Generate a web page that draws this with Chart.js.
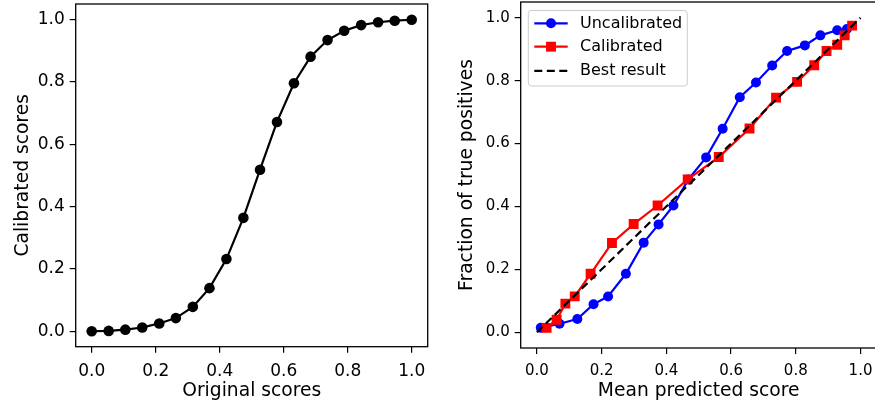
<!DOCTYPE html>
<html>
<head>
<meta charset="utf-8">
<script src="https://cdn.jsdelivr.net/npm/chart.js@4.4.1/dist/chart.umd.min.js"></script>
<style>
  html, body { margin: 0; padding: 0; background: #fff; overflow: hidden; }
  body { width: 875px; height: 403px; position: relative; }
  .box { position: absolute; top: 0; height: 403px; overflow: hidden; }
  #izq { left: 0; width: 440px; }
  #der { left: 440px; width: 435px; }
</style>
</head>
<body>
<div class="box" id="izq"><canvas id="graficoIzq" width="440" height="403"></canvas></div>
<div class="box" id="der"><canvas id="graficoDer" width="440" height="403"></canvas></div>
<script>
// Datos del grafico izquierdo (scores originales vs calibrados)
const originalScores = [0, 0.053, 0.105, 0.158, 0.211, 0.263, 0.316, 0.368, 0.421, 0.474,
  0.526, 0.579, 0.632, 0.684, 0.737, 0.789, 0.842, 0.895, 0.947, 1.0];
const calibratedScores = [0.001, 0.002, 0.006, 0.013, 0.026, 0.043, 0.079, 0.139, 0.232, 0.364,
  0.518, 0.671, 0.795, 0.880, 0.933, 0.963, 0.981, 0.990, 0.995, 0.998];

// Datos del grafico derecho (curvas de calibracion)
const uncalX = [0.012, 0.070, 0.125, 0.175, 0.220, 0.275, 0.330, 0.376, 0.422, 0.468,
  0.523, 0.574, 0.627, 0.677, 0.727, 0.773, 0.828, 0.876, 0.928, 0.958];
const uncalY = [0.014, 0.027, 0.042, 0.089, 0.114, 0.186, 0.285, 0.343, 0.403, 0.486,
  0.556, 0.647, 0.747, 0.794, 0.848, 0.894, 0.912, 0.944, 0.960, 0.964];
const calX = [0.030, 0.061, 0.088, 0.117, 0.166, 0.232, 0.299, 0.373, 0.466,
  0.562, 0.657, 0.739, 0.804, 0.857, 0.895, 0.928, 0.951, 0.974];
const calY = [0.014, 0.040, 0.091, 0.114, 0.186, 0.284, 0.344, 0.403, 0.486,
  0.557, 0.648, 0.746, 0.796, 0.849, 0.894, 0.914, 0.944, 0.975];
const bestX = [0, 1];
const bestY = [0, 1];

const tickValues = [0, 0.2, 0.4, 0.6, 0.8, 1.0];

const FUENTE = 'DejaVu Sans';
const toPoints = (xs, ys) => xs.map((x, i) => ({ x: x, y: ys[i] }));

// Marco completo alrededor del area del grafico
const marco = {
  id: 'marco',
  afterDraw(chart) {
    const { ctx, chartArea: a } = chart;
    ctx.save();
    ctx.strokeStyle = '#000';
    ctx.lineWidth = 1.3;
    ctx.strokeRect(a.left, a.top, a.right - a.left, a.bottom - a.top);
    ctx.restore();
  }
};

// Leyenda estilo matplotlib (linea + marcador)
const leyenda = {
  id: 'leyenda',
  afterDatasetsDraw(chart) {
    const ctx = chart.ctx;
    const bx = 88.3, by = 10.5, bw = 159, bh = 75.5, r = 3;
    ctx.save();
    ctx.beginPath();
    ctx.moveTo(bx + r, by);
    ctx.arcTo(bx + bw, by, bx + bw, by + bh, r);
    ctx.arcTo(bx + bw, by + bh, bx, by + bh, r);
    ctx.arcTo(bx, by + bh, bx, by, r);
    ctx.arcTo(bx, by, bx + bw, by, r);
    ctx.closePath();
    ctx.fillStyle = 'rgba(255,255,255,0.85)';
    ctx.fill();
    ctx.strokeStyle = '#cccccc';
    ctx.lineWidth = 1;
    ctx.stroke();

    const filas = [23.3, 46.7, 70.8];
    chart.data.datasets.forEach((ds, i) => {
      const y = filas[i];
      ctx.beginPath();
      ctx.setLineDash(ds.borderDash || []);
      ctx.strokeStyle = ds.borderColor;
      ctx.lineWidth = ds.borderWidth;
      ctx.moveTo(94.3, y);
      ctx.lineTo(127.7, y);
      ctx.stroke();
      ctx.setLineDash([]);
      if (ds.pointRadius > 0) {
        ctx.fillStyle = ds.pointBackgroundColor;
        if (ds.pointStyle === 'rect') {
          const s = ds.pointRadius * Math.SQRT1_2;
          ctx.fillRect(111 - s, y - s, 2 * s, 2 * s);
        } else {
          ctx.beginPath();
          ctx.arc(111, y, ds.pointRadius, 0, Math.PI * 2);
          ctx.fill();
        }
      }
      ctx.fillStyle = '#000';
      ctx.font = '16px "' + FUENTE + '"';
      ctx.textBaseline = 'middle';
      ctx.textAlign = 'left';
      ctx.fillText(ds.label, 140, y + 0.5);
    });
    ctx.restore();
  }
};

// Construye las opciones de un eje
const eje = (titulo, min, max, tamTick, pad, ancho, alto, titPad) => ({
  type: 'linear',
  min: min,
  max: max,
  afterBuildTicks: s => { s.ticks = tickValues.map(v => ({ value: v })); },
  afterFit: s => {
    if (ancho) s.width = ancho;
    if (alto) s.height = alto;
    // sin margen extra por las etiquetas, el area la fija layout.padding
    s.paddingLeft = 0;
    s.paddingRight = 0;
    s.paddingTop = 0;
    s.paddingBottom = 0;
  },
  border: { display: false },
  grid: { drawOnChartArea: false, drawTicks: true, tickLength: 6, color: '#000', lineWidth: 1.2 },
  ticks: {
    autoSkip: false,
    maxRotation: 0,
    padding: pad,
    color: '#000',
    font: { family: FUENTE, size: tamTick },
    callback: v => v.toFixed(1)
  },
  title: {
    display: true,
    text: titulo,
    color: '#000',
    font: { family: FUENTE, size: 18.7 },
    padding: titPad
  }
});

// Grafico izquierdo
new Chart(document.getElementById('graficoIzq'), {
  type: 'line',
  data: {
    datasets: [{
      label: 'Calibrated',
      data: toPoints(originalScores, calibratedScores),
      borderColor: '#000',
      backgroundColor: '#000',
      pointBackgroundColor: '#000',
      pointBorderColor: '#000',
      borderWidth: 2.2,
      pointRadius: 5.3,
      pointBorderWidth: 0,
      fill: false
    }]
  },
  options: {
    responsive: false,
    animation: false,
    layout: { autoPadding: false, padding: { top: 4, right: 12.3, bottom: 0, left: 0 } },
    plugins: { legend: { display: false }, tooltip: { enabled: false } },
    scales: {
      x: eje('Original scores', -0.05, 1.05, 17, 9, 0, 56.3, { top: 0, bottom: 0.5 }),
      y: eje('Calibrated scores', -0.0485, 1.0485, 17, 5, 75.7, 0, { top: 11.5, bottom: 0 })
    }
  },
  plugins: [marco]
});

// Grafico derecho
new Chart(document.getElementById('graficoDer'), {
  type: 'line',
  data: {
    datasets: [
      {
        label: 'Uncalibrated',
        data: toPoints(uncalX, uncalY),
        borderColor: '#0000ff',
        pointBackgroundColor: '#0000ff',
        pointBorderColor: '#0000ff',
        borderWidth: 2.2,
        pointRadius: 5,
        pointBorderWidth: 0,
        pointStyle: 'circle',
        fill: false,
        order: 2
      },
      {
        label: 'Calibrated',
        data: toPoints(calX, calY),
        borderColor: '#ff0000',
        pointBackgroundColor: '#ff0000',
        pointBorderColor: '#ff0000',
        borderWidth: 2.2,
        pointRadius: 7,
        pointBorderWidth: 0,
        pointStyle: 'rect',
        fill: false,
        order: 1
      },
      {
        label: 'Best result',
        data: toPoints(bestX, bestY),
        borderColor: '#000',
        borderWidth: 2.2,
        borderDash: [8, 4.5],
        pointRadius: 0,
        fill: false,
        order: 0
      }
    ]
  },
  options: {
    responsive: false,
    animation: false,
    layout: { autoPadding: false, padding: { top: 2, right: 3.3, bottom: 0, left: 0 } },
    plugins: { legend: { display: false }, tooltip: { enabled: false } },
    scales: {
      x: eje('Mean predicted score', -0.05, 1.05, 15, 8, 0, 55, { top: 0, bottom: 0.5 }),
      y: eje('Fraction of true positives', -0.05, 1.05, 15, 5, 80.7, 0, { top: 16, bottom: 0 })
    }
  },
  plugins: [marco, leyenda]
});
</script>
</body>
</html>
